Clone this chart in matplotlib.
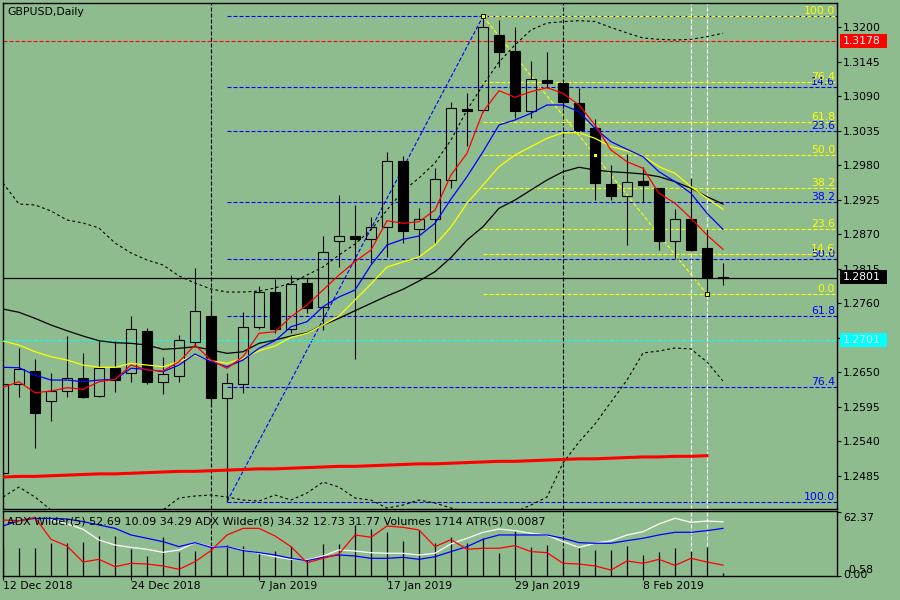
import matplotlib
matplotlib.use('Agg')
import matplotlib.pyplot as plt
from matplotlib.patches import Rectangle

nan = float('nan')

# GBPUSD daily bars, 12 Dec 2018 .. 15 Feb 2019
opens = [1.24889, 1.26313, 1.26520, 1.26046, 1.26206, 1.26403, 1.26126, 1.26563, 1.26483, 1.27158,
         1.26340, 1.26445, 1.26987, 1.27397, 1.26085, 1.26308, 1.27217, 1.27784, 1.27185, 1.27918,
         1.27535, 1.28593, 1.28667, 1.28620, 1.28821, 1.29863, 1.28779, 1.28939, 1.29565, 1.30697,
         1.30681, 1.31877, 1.31622, 1.30670, 1.31160, 1.31116, 1.30788, 1.30389, 1.29497, 1.29315,
         1.29549, 1.29442, 1.28593, 1.28939, 1.28476, 1.28023]
highs = [1.26568, 1.26882, 1.26706, 1.26483, 1.27078, 1.26802, 1.26998, 1.26998, 1.27397, 1.27201,
         1.26748, 1.27094, 1.28157, 1.27652, 1.26483, 1.27456, 1.27875, 1.27982, 1.28050, 1.27998,
         1.28672, 1.29326, 1.29167, 1.28970, 1.30007, 1.29948, 1.29114, 1.29752, 1.30814, 1.30947,
         1.32175, 1.32116, 1.32009, 1.31462, 1.31611, 1.31160, 1.31027, 1.30538, 1.29804, 1.29980,
         1.29777, 1.29442, 1.29103, 1.29592, 1.28779, 1.28237]
lows = [1.24800, 1.26110, 1.25297, 1.25727, 1.26110, 1.26089, 1.26105, 1.26190, 1.26349, 1.26313,
        1.26153, 1.26349, 1.26934, 1.25978, 1.24436, 1.26164, 1.27185, 1.27130, 1.27121, 1.27440,
        1.27174, 1.28183, 1.26706, 1.28237, 1.28333, 1.28565, 1.28333, 1.28565, 1.29433, 1.30112,
        1.30649, 1.31372, 1.30549, 1.30549, 1.31027, 1.30713, 1.30310, 1.29246, 1.29246, 1.28529,
        1.29210, 1.28449, 1.28317, 1.28440, 1.27743, 1.27891]
closes = [1.26308, 1.26547, 1.25855, 1.26201, 1.26403, 1.26110, 1.26572, 1.26381, 1.27185, 1.26349,
          1.26467, 1.27014, 1.27472, 1.26085, 1.26324, 1.27217, 1.27784, 1.27194, 1.27902, 1.27520,
          1.28412, 1.28677, 1.28620, 1.28811, 1.29873, 1.28757, 1.28939, 1.29576, 1.30708, 1.30660,
          1.32000, 1.31611, 1.30670, 1.31171, 1.31107, 1.30814, 1.30362, 1.29513, 1.29315, 1.29528,
          1.29485, 1.28597, 1.28939, 1.28449, 1.28014, 1.28010]

# moving averages
ma_red = [1.26260, 1.26349, 1.26174, 1.26201, 1.26254, 1.26228, 1.26349, 1.26387, 1.26615, 1.26536,
          1.26520, 1.26668, 1.26934, 1.26695, 1.26563, 1.26748, 1.27121, 1.27146, 1.27386, 1.27572,
          1.27811, 1.28050, 1.28263, 1.28449, 1.28916, 1.28875, 1.28900, 1.29087, 1.29645, 1.29991,
          1.30654, 1.30989, 1.30884, 1.30973, 1.31037, 1.30947, 1.30761, 1.30442, 1.30043, 1.29857,
          1.29752, 1.29353, 1.29194, 1.28954, 1.28688, 1.28460]
ma_blue = [1.26579, 1.26572, 1.26456, 1.26376, 1.26376, 1.26349, 1.26376, 1.26387, 1.26563, 1.26547,
           1.26509, 1.26615, 1.26791, 1.26668, 1.26588, 1.26695, 1.26882, 1.27003, 1.27226, 1.27306,
           1.27545, 1.27700, 1.27811, 1.28210, 1.28529, 1.28620, 1.28672, 1.28875, 1.29262, 1.29618,
           1.30016, 1.30442, 1.30522, 1.30629, 1.30761, 1.30761, 1.30654, 1.30389, 1.30176, 1.30055,
           1.29937, 1.29697, 1.29538, 1.29353, 1.29034, 1.28779]
ma_yellow = [1.26998, 1.26934, 1.26827, 1.26748, 1.26695, 1.26615, 1.26579, 1.26579, 1.26642, 1.26615,
             1.26588, 1.26668, 1.26775, 1.26684, 1.26642, 1.26722, 1.26843, 1.26918, 1.27057, 1.27121,
             1.27253, 1.27397, 1.27652, 1.27907, 1.28178, 1.28258, 1.28337, 1.28529, 1.28816, 1.29194,
             1.29485, 1.29777, 1.29964, 1.30096, 1.30230, 1.30319, 1.30319, 1.30230, 1.30096, 1.30032,
             1.29948, 1.29777, 1.29672, 1.29458, 1.29273, 1.29098]
ma_black = [1.27508, 1.27456, 1.27360, 1.27253, 1.27162, 1.27078, 1.27003, 1.26971, 1.26961, 1.26934,
            1.26866, 1.26882, 1.26907, 1.26855, 1.26802, 1.26827, 1.26961, 1.27014, 1.27078, 1.27130,
            1.27253, 1.27360, 1.27481, 1.27599, 1.27716, 1.27822, 1.27955, 1.28103, 1.28329, 1.28608,
            1.28821, 1.29114, 1.29246, 1.29406, 1.29565, 1.29697, 1.29768, 1.29725, 1.29697, 1.29682,
            1.29661, 1.29618, 1.29538, 1.29433, 1.29299, 1.29182]
band_up = [1.29517, 1.29182, 1.29167, 1.29071, 1.28927, 1.28880, 1.28800, 1.28561, 1.28401, 1.28290,
           1.28210, 1.28035, 1.27923, 1.27827, 1.27779, 1.27779, 1.27795, 1.27843, 1.27923, 1.28050,
           1.28178, 1.28369, 1.28545, 1.28768, 1.29087, 1.29390, 1.29597, 1.29836, 1.30203, 1.30681,
           1.31080, 1.31447, 1.31718, 1.31957, 1.32068, 1.32089, 1.32105, 1.32092, 1.31997, 1.31909,
           1.31829, 1.31808, 1.31797, 1.31808, 1.31850, 1.31904]
band_dn = [1.24511, 1.24670, 1.24511, 1.24304, 1.24224, 1.24208, 1.24208, 1.24224, 1.24256, 1.24288,
           1.24304, 1.24495, 1.24527, 1.24543, 1.24511, 1.24463, 1.24447, 1.24543, 1.24463, 1.24575,
           1.24750, 1.24670, 1.24495, 1.24463, 1.24335, 1.24383, 1.24463, 1.24415, 1.24335, 1.24272,
           1.24224, 1.24224, 1.24272, 1.24383, 1.24511, 1.25053, 1.25388, 1.25675, 1.26026, 1.26376,
           1.26807, 1.26839, 1.26887, 1.26871, 1.26663, 1.26360]
ma_slow = [1.2483, 1.2484, 1.2484, 1.2485, 1.2486, 1.2487, 1.2488, 1.2488, 1.2489, 1.2490,
           1.2491, 1.2492, 1.2492, 1.2493, 1.2494, 1.2495, 1.2496, 1.2496, 1.2497, 1.2498,
           1.2499, 1.2500, 1.2500, 1.2501, 1.2502, 1.2503, 1.2504, 1.2504, 1.2505, 1.2506,
           1.2507, 1.2508, 1.2508, 1.2509, 1.2510, 1.2511, 1.2512, 1.2512, 1.2513, 1.2514,
           1.2515, 1.2515, 1.2516, 1.2516, 1.2517]

# sub window
adx_red = [54.5, 53.8, 57.1, 35.5, 28.9, 13.2, 15.8, 8.6, 11.9, 11.2,
           9.3, 6.0, 13.5, 24.4, 39.8, 46.3, 46.3, 38.8, 28.3, 12.5,
           16.8, 21.1, 39.8, 37.5, 48.6, 47.3, 44.7, 28.3, 35.2, 25.7,
           26.7, 26.7, 29.3, 23.4, 22.4, 11.9, 11.2, 9.3, 5.3, 14.2,
           11.9, 15.8, 9.9, 16.8, 13.2, 10.09]
adx_blue = [48.6, 53.8, 56.1, 56.1, 55.5, 52.9, 49.6, 46.3, 39.8, 36.5,
            33.2, 28.3, 32.2, 27.6, 28.3, 24.4, 22.4, 20.1, 16.8, 14.5,
            17.8, 20.1, 19.1, 16.8, 16.8, 17.8, 15.8, 18.4, 23.4, 28.3,
            35.5, 39.8, 39.8, 39.8, 39.8, 36.5, 32.2, 31.6, 31.6, 34.2,
            36.5, 39.8, 42.4, 42.4, 44.0, 46.3]
adx_white = [nan, nan, nan, 54.5, 50.6, 45.4, 34.8, 29.9, 27.6, 25.7,
             22.7, 25.0, 32.2, 28.2, 28.2, 25.0, 21.8, 18.4, 15.8, 15.2,
             19.1, 25.0, 24.0, 22.3, 21.8, 21.8, 20.1, 21.8, 31.0, 36.5,
             42.4, 45.6, 44.0, 41.4, 39.7, 33.1, 27.6, 31.6, 34.1, 39.7,
             43.0, 50.6, 56.2, 52.2, 53.5, 52.69]
volumes = [15000, 14400, 14400, 17300, 17000, 17500, 21000, 20800, 14000, 10400,
           20400, 12600, 13200, 15600, 16100, 15600, 11300, 13000, 15600, 8300,
           16600, 16500, 26500, 24300, 23000, 18200, 23900, 17000, 20300, 17300,
           19600, 12100, 23600, 15200, 16100, 14400, 14700, 13500, 13500, 15600,
           10900, 12300, 14400, 13000, 14900, 1714]

price_ticks = [1.3200, 1.3145, 1.3090, 1.3035, 1.2980, 1.2925, 1.2870, 1.2815,
               1.2760, 1.2705, 1.2650, 1.2595, 1.2540, 1.2485]
date_pos = [0, 8, 16, 24, 32, 40]
date_labels = ['12 Dec 2018', '24 Dec 2018', '7 Jan 2019', '17 Jan 2019', '29 Jan 2019', '8 Feb 2019']
fib_levels = [0.0, 14.6, 23.6, 38.2, 50.0, 61.8, 76.4, 100.0]

BG = '#8FBC8F'
W, H = 900, 600
plt.rcParams['font.family'] = 'DejaVu Sans'
FS = 7.8


def fx(px):
    return px / W


def fy(py):
    return 1 - py / H


fig = plt.figure(figsize=(9, 6), dpi=100, facecolor=BG)
ax = fig.add_axes([fx(3), fy(509), 834 / W, 506 / H], facecolor=BG)
ax2 = fig.add_axes([fx(3), fy(576), 834 / W, 65 / H], facecolor=BG)

n = len(opens)
xs = list(range(n))
XMAX = 834 / 16.0
ax.set_xlim(0, XMAX)
ax.set_ylim(1.24320, 1.32387)
ax2.set_xlim(0, XMAX)
ax2.set_ylim(-0.58, 63.35)

for a in (ax, ax2):
    for s in a.spines.values():
        s.set_color('black')
        s.set_linewidth(1.0)

dash_fib = (0, (3.6, 1.8))
dash_band = (0, (2.5, 2.5))

# fibonacci objects (behind candles)
lo_b, hi_b = lows[14], highs[30]
lo_y = lows[44]
for r in fib_levels:
    lv = hi_b - r / 100 * (hi_b - lo_b)
    ax.hlines(lv, 14, XMAX, color='#0000FF', lw=0.8, ls=dash_fib, zorder=1)
    if r > 0:
        ax.text(52.0, lv, f'{r:.1f}', color='#0000FF', fontsize=FS, ha='right', va='bottom', zorder=6)
for r in fib_levels:
    lv = lo_y + r / 100 * (hi_b - lo_y)
    ax.hlines(lv, 30, XMAX, color='#FFFF00', lw=0.8, ls=dash_fib, zorder=1.1)
    ax.text(52.0, lv, f'{r:.1f}', color='#FFFF00', fontsize=FS, ha='right', va='bottom', zorder=6)
ax.plot([14, 30], [lo_b, hi_b], color='#0000FF', lw=0.8, ls=dash_fib, zorder=1)
ax.plot([30, 44], [hi_b, lo_y], color='#FFFF00', lw=0.8, ls=dash_fib, zorder=1)
ax.plot([30, 37, 44], [hi_b, (hi_b + lo_y) / 2, lo_y], 's', ms=3, mfc='#FFFF00', mec='black', mew=0.7, zorder=7)

# horizontal lines
ax.axhline(1.3178, color='#FF0000', lw=0.8, ls=dash_fib, zorder=1)
ax.axhline(1.2701, color='#00FFFF', lw=0.8, ls=dash_fib, zorder=1)
ax.axhline(1.2801, color='black', lw=0.9, zorder=1.2)

# vertical lines
for a in (ax, ax2):
    for v in (13, 35):
        a.axvline(v, color='black', lw=0.8, ls=dash_fib, zorder=1)
    for v in (43, 44):
        a.axvline(v, color='white', lw=0.8, ls=dash_fib, zorder=1)

# candles
bw = 0.62
for i in xs:
    o, h, l, c = opens[i], highs[i], lows[i], closes[i]
    top, bot = max(o, c), min(o, c)
    ax.vlines(i, top, h, color='black', lw=0.8, zorder=3)
    ax.vlines(i, l, bot, color='black', lw=0.8, zorder=3)
    fc = 'black' if c < o else 'none'
    ax.add_patch(Rectangle((i - bw / 2, bot), bw, top - bot, fc=fc, ec='black', lw=0.8, zorder=3))

# indicators
ax.plot(xs[:len(ma_slow)], ma_slow, color='#FF0000', lw=2.2, zorder=4)
ax.plot(xs, band_up, color='black', lw=0.8, ls=dash_band, zorder=4)
ax.plot(xs, band_dn, color='black', lw=0.8, ls=dash_band, zorder=4)
ax.plot(xs, ma_black, color='black', lw=0.9, zorder=4)
ax.plot(xs, ma_yellow, color='#FFFF00', lw=0.9, zorder=4)
ax.plot(xs, ma_blue, color='#0000FF', lw=0.9, zorder=4)
ax.plot(xs, ma_red, color='#FF0000', lw=0.9, zorder=4)

# price scale
ax.yaxis.tick_right()
ax.set_yticks(price_ticks)
ax.set_yticklabels([f'{t:.4f}' for t in price_ticks])
ax.tick_params(axis='y', direction='out', length=3, width=0.8, pad=1.2, labelsize=FS, colors='black')
ax.set_xticks([])

# sub window: volumes + ADX lines
vk = (63.35 + 0.58) / 65 / 519.0
ax2.vlines(xs, -0.58, [-0.58 + v * vk for v in volumes], color='black', lw=0.9, zorder=2)
ax2.plot(xs, adx_white, color='white', lw=0.9, zorder=3)
ax2.plot(xs, adx_blue, color='#0000FF', lw=0.9, zorder=3)
ax2.plot(xs, adx_red, color='#FF0000', lw=0.9, zorder=3)
ax2.yaxis.tick_right()
ax2.set_yticks([62.37, -0.58])
ax2.set_yticklabels(['', ''])
ax2.tick_params(axis='y', direction='out', length=3, width=0.8)
ax2.set_xticks(date_pos)
ax2.set_xticklabels(date_labels, ha='left')
ax2.tick_params(axis='x', direction='out', length=3, width=0.8, pad=0.8, labelsize=FS)
ax2.text(4 / 834, 0.84, 'ADX Wilder(5) 52.69 10.09 34.29 ADX Wilder(8) 34.32 12.73 31.77 Volumes 1714 ATR(5) 0.0087',
         transform=ax2.transAxes, fontsize=8.05, va='center', ha='left', zorder=10)

fig.text(fx(843), fy(518), '62.37', fontsize=FS, va='center', ha='left')
fig.text(fx(845), fy(570), '-0.58', fontsize=FS, va='center', ha='left')
fig.text(fx(843), fy(575), '0.00', fontsize=FS, va='center', ha='left')

# title
fig.text(fx(7), fy(11.7), 'GBPUSD,Daily', fontsize=FS, va='center', ha='left')

# price boxes on the scale
for yc, fcol, tcol, lbl in [(41, '#FF0000', 'white', '1.3178'),
                            (277, 'black', 'white', '1.2801'),
                            (340, '#00FFFF', '#E8E8E8', '1.2701')]:
    fig.patches.append(Rectangle((fx(840), fy(yc + 7)), 47 / W, 14 / H, transform=fig.transFigure,
                                 fc=fcol, ec='none', zorder=5))
    fig.text(fx(843), fy(yc), lbl, color=tcol, fontsize=FS, va='center', ha='left', zorder=6)

fig.savefig('out.png', dpi=100, facecolor=BG)
